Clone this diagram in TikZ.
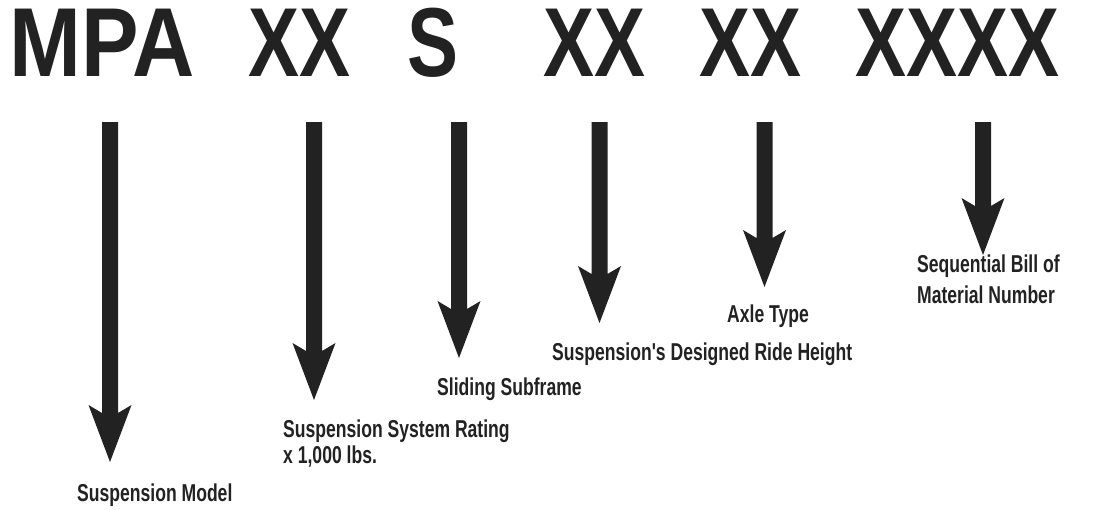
\documentclass[tikz,border=0pt]{standalone}
\usepackage{fontspec}
\usetikzlibrary{calc}
\newfontfamily\titlefont[FakeStretch=0.78]{Liberation Sans}
\newfontfamily\titlewidefont[FakeStretch=0.88]{Liberation Sans}
\newfontfamily\labfont[FakeStretch=0.72]{Liberation Sans}
\definecolor{ink}{HTML}{222222}
\newcommand\mpaarrow[2]{%
  \fill[ink] ($(#1)+(-8,0)$) -- ($(#2)+(-8,-49)$) -- ($(#2)+(-21.5,-57)$) -- (#2)
    -- ($(#2)+(21.5,-57)$) -- ($(#2)+(8,-49)$) -- ($(#1)+(8,0)$) -- cycle;}
\begin{document}
\begin{tikzpicture}[x=1pt,y=-1pt,
  titletext/.style={anchor=base,inner sep=0pt,text=ink,font=\titlefont\bfseries\fontsize{98}{98}\selectfont},
  titlewide/.style={anchor=base,inner sep=0pt,text=ink,font=\titlewidefont\bfseries\fontsize{98}{98}\selectfont},
  labtext/.style={anchor=base west,inner sep=0pt,text=ink,font=\labfont\bfseries\fontsize{24.4}{26}\selectfont}]
\useasboundingbox[fill=white] (0,0) rectangle (1094,509);
% title groups
\node[titlewide] (t1) at (102,76) {MPA};
\node[titletext] (t2) at (299,76) {XX};
\node[titletext] (t3) at (433,76) {S};
\node[titletext] (t4) at (594.5,76) {XX};
\node[titletext] (t5) at (750,76) {XX};
\node[titletext] (t6) at (957,76) {XXXX};
% arrow ends
\coordinate (s1) at (110,122);   \coordinate (e1) at (110,462);
\coordinate (s2) at (314,122);   \coordinate (e2) at (314,400);
\coordinate (s3) at (459,122);   \coordinate (e3) at (459,358);
\coordinate (s4) at (599.5,122); \coordinate (e4) at (599.5,323);
\coordinate (s5) at (764.5,122); \coordinate (e5) at (764.5,287);
\coordinate (s6) at (983,122);   \coordinate (e6) at (983,255);
\mpaarrow{s1}{e1}
\mpaarrow{s2}{e2}
\mpaarrow{s3}{e3}
\mpaarrow{s4}{e4}
\mpaarrow{s5}{e5}
\mpaarrow{s6}{e6}
% labels
\node[labtext] (l1) at (77,501) {Suspension Model};
\node[labtext] (l2a) at (283,437) {Suspension System Rating};
\node[labtext] (l2b) at (283,463) {x 1,000 lbs.};
\node[labtext] (l3) at (437,395) {Sliding Subframe};
\node[labtext] (l4) at (552,360) {Suspension's Designed Ride Height};
\node[labtext] (l5) at (727,322) {Axle Type};
\node[labtext] (l6a) at (917,272) {Sequential Bill of};
\node[labtext] (l6b) at (917,303) {Material Number};
\end{tikzpicture}
\end{document}
